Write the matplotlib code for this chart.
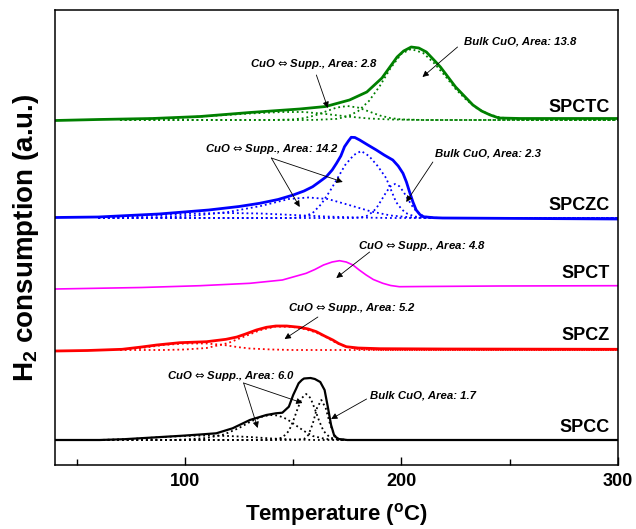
import numpy as np
import matplotlib
matplotlib.use("Agg")
import matplotlib.pyplot as plt
from matplotlib.ticker import MultipleLocator

plt.rcParams['font.family'] = ['Liberation Sans', 'DejaVu Sans']
plt.rcParams['mathtext.fontset'] = 'custom'
plt.rcParams['mathtext.rm'] = 'Liberation Sans:bold'
plt.rcParams['mathtext.bf'] = 'Liberation Sans:bold'
plt.rcParams['mathtext.sf'] = 'DejaVu Sans'
plt.rcParams['mathtext.default'] = 'rm'

# ---- measured TPR profiles (temperature in C, signal above each baseline) ----
# SPCTC
t_spctc = [40, 60, 85, 107, 130, 153, 165, 176, 184, 191, 195, 198, 201, 204.5, 208, 211.5,
           215, 218, 221.5, 225, 229, 233, 237, 241, 245, 255, 300]
h_spctc = [-0.5, 0.5, 1.5, 3.5, 7.5, 11, 13.5, 20, 28, 42, 54, 63, 69, 73, 72, 68,
           60, 53, 43, 33, 24, 15, 9, 5, 2, 1.5, 1.5]
t_spctc_p1 = [70, 80, 100, 115, 130, 145, 155, 165, 175, 185, 195, 210, 300]
h_spctc_p1 = [0, 1, 2.5, 4.5, 6.5, 8, 8, 6, 3.5, 1.5, 0.5, 0, 0]
t_spctc_p2 = [70, 140, 150, 155, 160, 165, 170, 175, 180, 185, 190, 195, 200, 210, 300]
h_spctc_p2 = [0, 0, 0.6, 1.9, 4.5, 8.5, 12.4, 14, 12.4, 8.5, 4.5, 1.9, 0.6, 0, 0]
t_spctc_p3 = [70, 155, 160, 170, 175, 180, 185, 190, 195, 200, 204.5, 210, 215, 220, 225,
              230, 235, 240, 245, 250, 260, 300]
h_spctc_p3 = [0, 0, 0.1, 1.1, 3.5, 8.9, 19, 34, 52, 66.3, 71, 67, 57, 44.5, 31,
              20, 11.5, 6, 2.9, 1.2, 0, 0]

# SPCZC
t_spczc = [40, 60, 88, 111, 125, 134.5, 143, 150, 155, 159, 162, 165.3, 168, 170, 172, 173.7,
           175.5, 176.8, 178.5, 180.7, 184.5, 188.4, 192, 196, 198.5, 200.7, 202.3, 203.7,
           205.3, 206.8, 208.5, 210, 215, 219, 300]
h_spczc = [0.5, 1, 4, 8, 11.5, 14.7, 18.5, 23, 27, 31.3, 36, 41.3, 48, 54.7, 62, 71.3,
           77, 80.7, 80.5, 78, 73, 68, 63, 58, 52, 44.7, 36, 26.3,
           16, 8, 3.5, 1.3, 0.3, 0, -1]
t_spczc_p1 = [60, 70, 90, 105, 120, 135, 150, 165, 180, 195, 300]
h_spczc_p1 = [0, 1, 3, 4.5, 5, 4.5, 3, 1.5, 0.5, 0, 0]
t_spczc_p2 = [60, 75, 90, 105, 120, 135, 148, 157, 166, 175, 186, 195, 205, 215, 300]
h_spczc_p2 = [0, 0, 1, 2.5, 6, 12, 19, 20.5, 19, 13.5, 6.5, 2.5, 0.5, 0, 0]
t_spczc_p3 = [60, 150, 155, 159, 163, 167, 170, 174, 178, 181.4, 185, 189, 192.9, 195,
              197.5, 200, 202, 206, 212, 300]
h_spczc_p3 = [0, 0, 1.5, 5, 14, 27, 38, 53, 63, 67, 62, 52, 40, 29,
              16, 9, 5, 1.5, 0, 0]
t_spczc_p4 = [60, 178, 181, 184, 187, 189, 191, 193, 195, 197, 199, 201, 203, 205, 207,
              210, 213, 218, 300]
h_spczc_p4 = [0, 0, 0.5, 2.1, 6.5, 11.8, 18.8, 26, 31.8, 34, 31.8, 26, 18.8, 11.8, 6.5,
              2.1, 0.5, 0, 0]

# SPCT
t_spct = [40, 80, 107, 130, 145, 156, 160, 164, 168, 171.4, 174.5, 177.6, 180.5, 183.7,
          187, 191.4, 195, 199, 210, 245, 300]
h_spct = [-1, 0.5, 2.3, 4.7, 8, 14.7, 18.5, 23, 26, 27.3, 26, 23, 18, 13,
          8.5, 4.7, 2.5, 1.3, 1.5, 2, 2.3]

# SPCZ
t_spcz = [40, 55, 71, 80, 87, 97.6, 110, 119, 124, 128, 133, 137.6, 142, 147, 153, 157,
          160.7, 164.5, 168.3, 171, 174.5, 180, 190, 220, 300]
h_spcz = [-1, -0.5, 0.7, 3, 5, 7.3, 8.3, 10.7, 13, 16, 20, 22.7, 24, 24, 22.7, 21,
          18.3, 14, 10, 6.5, 3.3, 2, 1.3, 1, 0.7]
t_spcz_p1 = [70, 80, 90, 100, 110, 118, 124, 130, 140, 150, 300]
h_spcz_p1 = [0.5, 2, 5, 6.5, 6.5, 5, 3, 1.5, 0.5, 0, 0]
t_spcz_p2 = [70, 90, 100, 110, 120, 128, 135, 142, 150, 155, 160, 165, 170, 175, 180, 190, 300]
h_spcz_p2 = [0, 0, 0.5, 2, 7, 14, 20, 23.5, 23, 21, 18, 13, 7, 3, 1, 0, 0]

# SPCC
t_spcc = [40, 60.6, 72, 83.7, 99, 107, 114.5, 122, 130, 137.6, 142, 145, 148, 150, 151.3,
          152.5, 154, 155, 158, 160, 162.5, 164.5, 166, 167.5, 169, 171, 175, 300]
h_spcc = [0, 0, 0.8, 2.3, 4.3, 5.5, 6.7, 11.7, 20, 25, 26.7, 27.3, 33.3, 45, 51,
          56.7, 60, 61.5, 62, 61, 58, 50, 33, 15, 4, 1, 0, 0]
t_spcc_p1 = [40, 60, 75, 90, 100, 110, 120, 130, 140, 150, 160, 300]
h_spcc_p1 = [0, 0, 1, 3, 4, 4.5, 4, 3, 1.5, 0.5, 0, 0]
t_spcc_p2 = [40, 95, 100, 110, 118, 125, 130, 135, 139, 143, 147, 151, 155, 159, 165, 175, 300]
h_spcc_p2 = [0, 0, 0.5, 2, 5.5, 12, 18, 23, 25, 24.5, 21, 15, 9, 4, 1, 0, 0]
t_spcc_p3 = [40, 140, 145, 148, 150, 152, 154, 156, 158, 160, 162, 164, 167, 172, 300]
h_spcc_p3 = [0, 0, 2.4, 9, 19, 31, 42, 46, 42, 31, 19, 9, 2.4, 0, 0]
t_spcc_p4 = [40, 150, 155, 157, 159, 161, 163, 165, 167, 169, 171, 175, 300]
h_spcc_p4 = [0, 0, 1, 5, 16, 32, 40, 32, 16, 5, 1, 0, 0]

# stacking offset for each sample
offsets = {'SPCTC': 345, 'SPCZC': 247, 'SPCT': 177, 'SPCZ': 115, 'SPCC': 25}

series = [
    ('SPCTC', '#008000', 2.0, (t_spctc, h_spctc),
     [(t_spctc_p1, h_spctc_p1), (t_spctc_p2, h_spctc_p2), (t_spctc_p3, h_spctc_p3)]),
    ('SPCZC', '#0000FF', 2.0, (t_spczc, h_spczc),
     [(t_spczc_p1, h_spczc_p1), (t_spczc_p2, h_spczc_p2),
      (t_spczc_p3, h_spczc_p3), (t_spczc_p4, h_spczc_p4)]),
    ('SPCT', '#FF00FF', 1.2, (t_spct, h_spct), []),
    ('SPCZ', '#FF0000', 2.0, (t_spcz, h_spcz),
     [(t_spcz_p1, h_spcz_p1), (t_spcz_p2, h_spcz_p2)]),
    ('SPCC', 'black', 1.6, (t_spcc, h_spcc),
     [(t_spcc_p1, h_spcc_p1), (t_spcc_p2, h_spcc_p2),
      (t_spcc_p3, h_spcc_p3), (t_spcc_p4, h_spcc_p4)]),
]

label_y = {'SPCTC': 357, 'SPCZC': 259, 'SPCT': 192, 'SPCZ': 130, 'SPCC': 37}

fig = plt.figure(figsize=(6.36, 5.29), dpi=100)
ax = fig.add_axes([55 / 636, 64 / 529, 563 / 636, 455 / 529])

for name, color, lw, (t, h), peaks in series:
    off = offsets[name]
    for tp, hp in peaks:
        ax.plot(tp, np.array(hp) + off, ls=':', color=color, lw=1.3)
    ax.plot(t, np.array(h) + off, color=color, lw=lw)
    ax.text(296, label_y[name], name, ha='right', va='center',
            fontsize=13, fontweight='bold')

# peak assignments
note = dict(fontsize=8.2, fontweight='bold', style='italic', ha='left', va='center')
arrow = dict(arrowstyle='-|>', color='black', lw=0.6, mutation_scale=9,
             shrinkA=0, shrinkB=0)
lr = '$\\mathsf{\u21d4}$'

labels = [
    ('Bulk CuO, Area: 13.8', (229.1, 423), (225.9, 418), [(209.7, 388)]),
    ('CuO ' + lr + ' Supp., Area: 2.8', (129.9, 401), (160.7, 390), [(166.0, 357)]),
    ('CuO ' + lr + ' Supp., Area: 14.2', (109.1, 316), (139.9, 307), [(172.9, 283), (153.0, 258)]),
    ('Bulk CuO, Area: 2.3', (215.3, 311), (214.5, 303), [(202.2, 263)]),
    ('CuO ' + lr + ' Supp., Area: 4.8', (179.7, 219), (185.3, 213), [(169.9, 187)]),
    ('CuO ' + lr + ' Supp., Area: 5.2', (147.4, 157), (161.4, 148), [(146.0, 126)]),
    ('CuO ' + lr + ' Supp., Area: 6.0', (91.6, 89), (127.1, 82), [(154.3, 62), (133.6, 37)]),
    ('Bulk CuO, Area: 1.7', (185.6, 69), (183.9, 66), [(167.5, 46)]),
]
for txt, pos, start, ends in labels:
    ax.text(pos[0], pos[1], txt, **note)
    for end in ends:
        ax.annotate('', xy=end, xytext=start, arrowprops=arrow)

ax.set_xlim(40, 300)
ax.set_ylim(0, 455)
ax.set_yticks([])
ax.xaxis.set_major_locator(MultipleLocator(100))
ax.xaxis.set_minor_locator(MultipleLocator(50))
ax.tick_params(axis='x', which='major', direction='in', length=6, width=1,
               labelsize=13, pad=6)
ax.tick_params(axis='x', which='minor', direction='in', length=4, width=1)
for lab in ax.get_xticklabels():
    lab.set_fontweight('bold')
for s in ax.spines.values():
    s.set_linewidth(1.1)

ax.set_xlabel('Temperature ($^\\mathrm{o}$C)', fontsize=16, fontweight='bold', labelpad=8)
ax.set_ylabel('H$_2$ consumption (a.u.)', fontsize=20, fontweight='bold', labelpad=10)

fig.savefig('out.png', dpi=100)
